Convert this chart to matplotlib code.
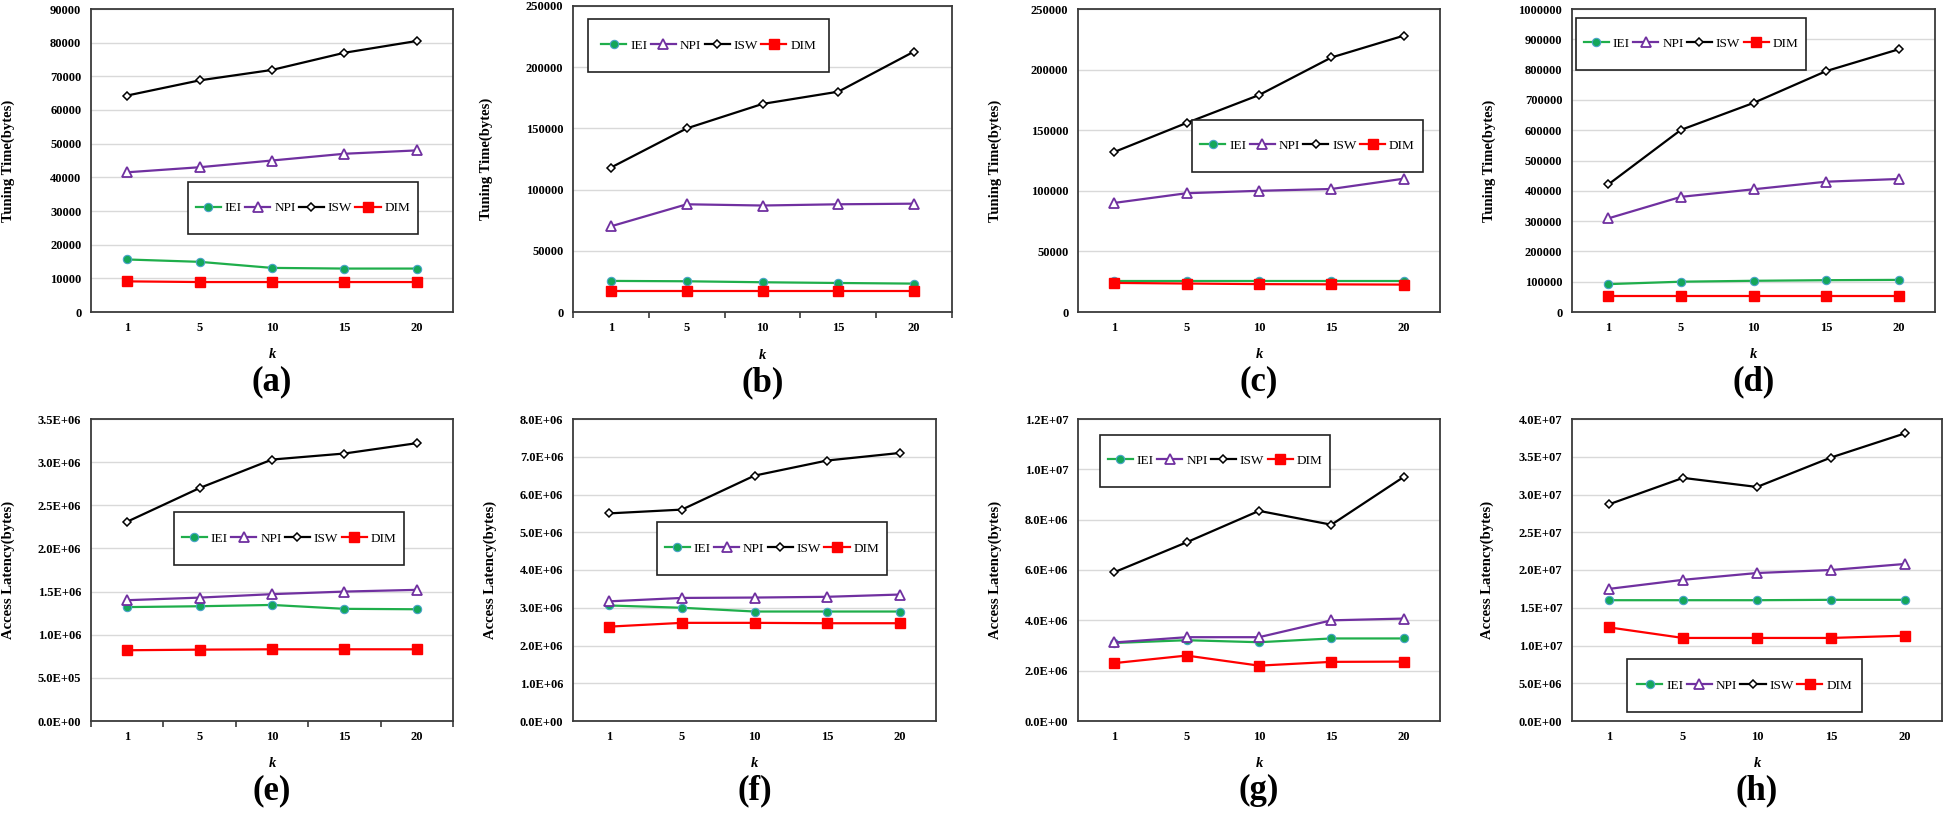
import matplotlib.pyplot as plt
from matplotlib.patches import Rectangle
from matplotlib.ticker import MultipleLocator, FormatStrFormatter

plt.rcParams['font.family'] = ['Liberation Serif', 'DejaVu Serif']

k_labels = ['1', '5', '10', '15', '20']
series_names = ['IEI', 'NPI', 'ISW', 'DIM']

# tuning time (bytes)
a_iei = [15600, 14900, 13100, 12900, 12900]
a_npi = [41500, 43000, 45000, 47000, 48000]
a_isw = [64300, 68800, 71900, 77000, 80500]
a_dim = [9100, 8900, 8900, 8900, 8900]

b_iei = [25400, 25100, 24300, 23700, 23200]
b_npi = [70000, 88000, 87000, 88000, 88500]
b_isw = [118000, 150000, 170000, 180000, 212800]
b_dim = [17400, 17400, 17400, 17400, 17400]

c_iei = [25200, 25200, 25200, 25200, 25200]
c_npi = [90000, 98000, 100000, 101500, 110000]
c_isw = [132000, 156000, 179000, 210000, 228000]
c_dim = [24000, 23500, 23000, 22800, 22600]

d_iei = [92000, 100000, 103000, 105000, 106000]
d_npi = [309000, 380000, 405000, 430000, 439000]
d_isw = [421000, 601000, 690000, 795000, 867000]
d_dim = [53000, 53000, 53000, 53000, 53000]

# access latency (bytes)
e_iei = [1.32e6, 1.33e6, 1.345e6, 1.30e6, 1.295e6]
e_npi = [1.40e6, 1.43e6, 1.47e6, 1.50e6, 1.52e6]
e_isw = [2.31e6, 2.70e6, 3.03e6, 3.10e6, 3.22e6]
e_dim = [0.82e6, 0.827e6, 0.831e6, 0.831e6, 0.831e6]

f_iei = [3.06e6, 3.00e6, 2.90e6, 2.90e6, 2.90e6]
f_npi = [3.17e6, 3.26e6, 3.27e6, 3.29e6, 3.35e6]
f_isw = [5.50e6, 5.60e6, 6.50e6, 6.90e6, 7.10e6]
f_dim = [2.50e6, 2.60e6, 2.60e6, 2.59e6, 2.59e6]

g_iei = [3.10e6, 3.21e6, 3.13e6, 3.28e6, 3.28e6]
g_npi = [3.12e6, 3.33e6, 3.33e6, 4.00e6, 4.07e6]
g_isw = [5.91e6, 7.10e6, 8.35e6, 7.80e6, 9.70e6]
g_dim = [2.30e6, 2.60e6, 2.20e6, 2.35e6, 2.36e6]

h_iei = [1.60e7, 1.60e7, 1.60e7, 1.605e7, 1.605e7]
h_npi = [1.75e7, 1.87e7, 1.96e7, 2.00e7, 2.08e7]
h_isw = [2.87e7, 3.22e7, 3.10e7, 3.49e7, 3.81e7]
h_dim = [1.24e7, 1.10e7, 1.10e7, 1.10e7, 1.13e7]

styles = [
    dict(color='#1fae4b', marker='o', ms=6, mfc='#14a75a', mec='#4aa3c9', mew=0.8),
    dict(color='#7030a0', marker='^', ms=7.5, mfc='white', mec='#7030a0', mew=1.3),
    dict(color='black', marker='D', ms=4.5, mfc='white', mec='black', mew=1.1),
    dict(color='#ff0000', marker='s', ms=7, mfc='#ff0000', mec='#ff0000'),
]

W, H = 1946, 814
fig = plt.figure(figsize=(W / 100, H / 100), dpi=100)


def draw_panel(px, label, ylabel, series, ymax, ystep, fmt, box, bticks=False):
    left, top, right, bottom = px
    ax = fig.add_axes([left / W, 1 - bottom / H, (right - left) / W, (bottom - top) / H])
    x = list(range(len(k_labels)))
    for i, (name, vals) in enumerate(zip(series_names, series)):
        ax.plot(x, vals, lw=1.6, label=name, zorder=3 + i, **styles[i])
    ax.set_xlim(-0.5, len(k_labels) - 0.5)
    ax.set_ylim(0, ymax)
    ax.yaxis.set_major_locator(MultipleLocator(ystep))
    ax.yaxis.set_major_formatter(FormatStrFormatter(fmt))
    ax.set_xticks(x)
    ax.set_xticklabels(k_labels)
    ax.grid(axis='y', color='#d9d9d9', lw=1)
    ax.set_axisbelow(True)
    for s in ax.spines.values():
        s.set_color('#3a3a3a')
        s.set_linewidth(1.3)
    ax.tick_params(axis='both', length=0, labelsize=9, pad=7)
    if bticks:
        ax.set_xticks([v - 0.5 for v in range(len(k_labels) + 1)], minor=True)
        ax.tick_params(axis='x', which='minor', length=4, width=1.2, color='#3a3a3a')
    for t in ax.get_xticklabels() + ax.get_yticklabels():
        t.set_fontweight('bold')
    ax.set_ylabel(ylabel, fontsize=10.5, fontweight='bold')
    ax.yaxis.set_label_coords(-0.21, 0.5)
    ax.set_xlabel('k', fontsize=10.5, fontweight='bold', style='italic')
    ax.xaxis.set_label_coords(0.5, -0.12)
    ax.text(0.5, -0.23, label, transform=ax.transAxes, ha='center', va='center',
            fontsize=25, fontweight='bold')
    x0, y0, x1, y1 = box
    ax.add_patch(Rectangle((x0, y0), x1 - x0, y1 - y0, transform=ax.transAxes,
                           facecolor='white', edgecolor='#222222', lw=1.2, zorder=10))
    leg = ax.legend(loc='center', bbox_to_anchor=((x0 + x1) / 2, (y0 + y1) / 2),
                    ncol=4, frameon=False, fontsize=9.5, handlelength=1.9,
                    handletextpad=0.3, columnspacing=0.25, borderpad=0.2)
    leg.set_zorder(11)
    return ax


tt = 'Tuning Time(bytes)'
al = 'Access Latency(bytes)'
draw_panel((91, 9, 453, 312), '(a)', tt, [a_iei, a_npi, a_isw, a_dim], 90000, 10000, '%d',
           (0.268, 0.257, 0.903, 0.429))
draw_panel((573, 6, 952, 312), '(b)', tt, [b_iei, b_npi, b_isw, b_dim], 250000, 50000, '%d',
           (0.040, 0.784, 0.676, 0.957), bticks=True)
draw_panel((1078, 9, 1440, 312), '(c)', tt, [c_iei, c_npi, c_isw, c_dim], 250000, 50000, '%d',
           (0.315, 0.462, 0.953, 0.634))
draw_panel((1572, 9, 1935, 312), '(d)', tt, [d_iei, d_npi, d_isw, d_dim], 1000000, 100000, '%d',
           (0.011, 0.799, 0.645, 0.970))
draw_panel((91, 419, 453, 721), '(e)', al, [e_iei, e_npi, e_isw, e_dim], 3.5e6, 0.5e6, '%.1E',
           (0.229, 0.517, 0.865, 0.692), bticks=True)
draw_panel((573, 419, 936, 721), '(f)', al, [f_iei, f_npi, f_isw, f_dim], 8e6, 1e6, '%.1E',
           (0.231, 0.483, 0.865, 0.659))
draw_panel((1078, 419, 1440, 721), '(g)', al, [g_iei, g_npi, g_isw, g_dim], 1.2e7, 2e6, '%.1E',
           (0.061, 0.775, 0.696, 0.947))
draw_panel((1572, 419, 1942, 721), '(h)', al, [h_iei, h_npi, h_isw, h_dim], 4e7, 5e6, '%.1E',
           (0.149, 0.030, 0.784, 0.205))

fig.savefig('out.png', dpi=100)
